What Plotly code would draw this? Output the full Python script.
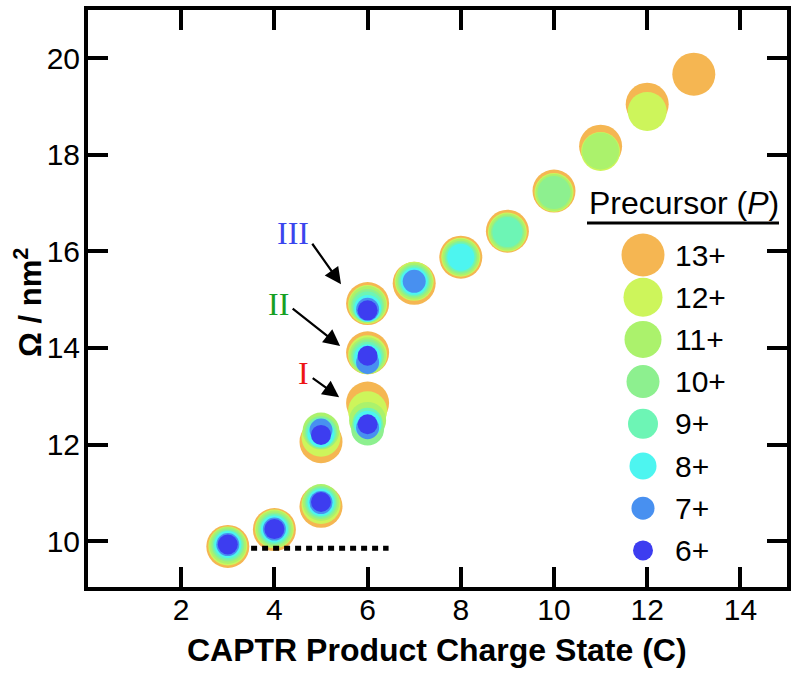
import plotly.graph_objects as go

# ---------------- data ----------------
precursors = ["13+", "12+", "11+", "10+", "9+", "8+", "7+", "6+"]
colors = ["#F5B652", "#CDF55B", "#ABF26C", "#8DF08F", "#6DF5B5", "#4DF5F0", "#4890F0", "#3D3DF0"]
sizes = [43, 39, 37, 33, 30, 27, 23, 20]

charge_13 = [3, 4, 5, 5, 6, 6, 6, 7, 8, 9, 10, 11, 12, 13]
omega_13 = [9.89, 10.24, 10.72, 12.06, 12.86, 13.90, 14.92, 15.34, 15.88, 16.42, 17.25, 18.18, 19.05, 19.67]
charge_12 = [3, 4, 5, 5, 6, 6, 6, 7, 8, 9, 10, 11, 12]
omega_12 = [9.90, 10.25, 10.76, 12.15, 12.70, 13.86, 14.90, 15.38, 15.88, 16.40, 17.22, 18.07, 18.90]
charge_11 = [3, 4, 5, 5, 6, 6, 6, 7, 8, 9, 10, 11]
omega_11 = [9.91, 10.25, 10.80, 12.28, 12.50, 13.84, 14.90, 15.38, 15.88, 16.40, 17.22, 18.08]
charge_10 = [3, 4, 5, 5, 6, 6, 6, 7, 8, 9, 10]
omega_10 = [9.92, 10.25, 10.80, 12.25, 12.32, 13.84, 14.88, 15.38, 15.88, 16.40, 17.22]
charge_9 = [3, 4, 5, 5, 6, 6, 6, 7, 8, 9]
omega_9 = [9.92, 10.25, 10.80, 12.25, 12.45, 13.82, 14.86, 15.38, 15.88, 16.40]
charge_8 = [3, 4, 5, 5, 6, 6, 6, 7, 8]
omega_8 = [9.93, 10.25, 10.80, 12.22, 12.42, 13.80, 14.82, 15.38, 15.88]
charge_7 = [3, 4, 5, 5, 6, 6, 6, 7]
omega_7 = [9.93, 10.25, 10.80, 12.30, 12.35, 13.70, 14.80, 15.38]
charge_6 = [3, 4, 5, 5, 6, 6, 6]
omega_6 = [9.93, 10.25, 10.81, 12.20, 12.42, 13.84, 14.78]

charges = [charge_13, charge_12, charge_11, charge_10, charge_9, charge_8, charge_7, charge_6]
omegas = [omega_13, omega_12, omega_11, omega_10, omega_9, omega_8, omega_7, omega_6]

ref_x = [3.5, 6.45]
ref_y = [9.85, 9.85]

x_ticks = [2, 4, 6, 8, 10, 12, 14]
y_ticks = [10, 12, 14, 16, 18, 20]

x_title = "<b>CAPTR Product Charge State (C)</b>"
y_title = "<b>Ω / nm<sup>2</sup></b>"
legend_title = "Precursor (<i>P</i>)"

# labels: text, colour, text position, arrow tail, arrow tip (data units)
label_text = ["III", "II", "I"]
label_color = ["#3A45EE", "#17A023", "#EE1515"]
label_pos = [(4.40, 16.38), (4.08, 14.91), (4.62, 13.48)]
arrow_tail = [(4.79, 16.19), (4.36, 14.84), (4.79, 13.40)]
arrow_tip = [(5.43, 15.32), (5.41, 14.04), (5.39, 12.98)]

# ---------------- figure ----------------
FONT = "Arial, Liberation Sans, sans-serif"
fig = go.Figure()

for name, col, sz, cx, oy in zip(precursors, colors, sizes, charges, omegas):
    fig.add_trace(go.Scatter(
        x=cx, y=oy, mode="markers", name=name, showlegend=False,
        marker=dict(size=sz, color=col, line=dict(width=0), opacity=1),
        hoverinfo="x+y+name"))

fig.add_trace(go.Scatter(
    x=ref_x, y=ref_y, mode="lines", showlegend=False, hoverinfo="skip",
    line=dict(color="black", width=5, dash="6px,5px")))

# custom legend on a pixel-scaled overlay axis
L, R, T, B = 88, 787, 10, 587
leg_x = 643
leg_y0, leg_dy = 255, 42.2
leg_y = [leg_y0 + i * leg_dy for i in range(len(precursors))]
fig.add_trace(go.Scatter(
    x=[leg_x] * len(precursors), y=leg_y, xaxis="x2", yaxis="y2",
    mode="markers", showlegend=False, hoverinfo="skip",
    marker=dict(size=sizes, color=colors, line=dict(width=0), opacity=1)))

annotations = []
for name, yy in zip(precursors, leg_y):
    annotations.append(dict(x=673, y=yy, xref="x2", yref="y2", text=name,
                            showarrow=False, xanchor="left", yanchor="middle",
                            font=dict(family=FONT, size=30, color="black")))
annotations.append(dict(x=684, y=203, xref="x2", yref="y2",
                        text=legend_title, showarrow=False,
                        xanchor="center", yanchor="middle",
                        font=dict(family=FONT, size=32, color="black")))

for t, c, p, tail, tip in zip(label_text, label_color, label_pos, arrow_tail, arrow_tip):
    annotations.append(dict(x=p[0], y=p[1], xref="x", yref="y", text=t,
                            showarrow=False, xanchor="center", yanchor="middle",
                            font=dict(family="Times New Roman, Liberation Serif, serif",
                                      size=32, color=c)))
    annotations.append(dict(x=tip[0], y=tip[1], ax=tail[0], ay=tail[1],
                            xref="x", yref="y", axref="x", ayref="y", text="",
                            showarrow=True, arrowhead=2, arrowsize=1.5,
                            arrowwidth=2.2, arrowcolor="black"))

# axis titles (paper coordinates for exact positioning)
annotations.append(dict(x=(437 - L) / (R - L), y=(B - 650) / (B - T),
                        xref="paper", yref="paper", text=x_title,
                        showarrow=False, xanchor="center", yanchor="middle",
                        font=dict(family=FONT, size=32, color="black")))
annotations.append(dict(x=(28 - L) / (R - L), y=(B - 303) / (B - T),
                        xref="paper", yref="paper", text=y_title,
                        showarrow=False, xanchor="center", yanchor="middle",
                        textangle=-90,
                        font=dict(family=FONT, size=31, color="black")))

shapes = [dict(type="line", xref="x2", yref="y2", x0=587, x1=779, y0=223, y1=223,
               line=dict(color="black", width=3))]

fig.update_layout(
    width=800, height=675,
    margin=dict(l=L, r=800 - R, t=T, b=675 - B, pad=0, autoexpand=False),
    paper_bgcolor="white", plot_bgcolor="white",
    font=dict(family=FONT, size=30, color="black"),
    annotations=annotations, shapes=shapes,
    xaxis=dict(range=[0, 15], tickvals=x_ticks, ticks="inside", ticklen=20,
               tickwidth=4, tickcolor="black", showline=True, linewidth=4,
               linecolor="black", mirror="ticks", showgrid=False, zeroline=False,
               automargin=False,
               tickfont=dict(family=FONT, size=30), ticklabelstandoff=-7),
    yaxis=dict(range=[9.05, 21.0], tickvals=y_ticks, ticks="inside", ticklen=20,
               tickwidth=4, tickcolor="black", showline=True, linewidth=4,
               linecolor="black", mirror="ticks", showgrid=False, zeroline=False,
               automargin=False,
               tickfont=dict(family=FONT, size=30), ticklabelstandoff=-2),
    xaxis2=dict(range=[L, R], overlaying="x", visible=False, fixedrange=True),
    yaxis2=dict(range=[B, T], overlaying="y", visible=False, fixedrange=True),
)

fig.write_html("out.html", config={"displayModeBar": False},
               post_script="document.body.style.margin='0px';")
